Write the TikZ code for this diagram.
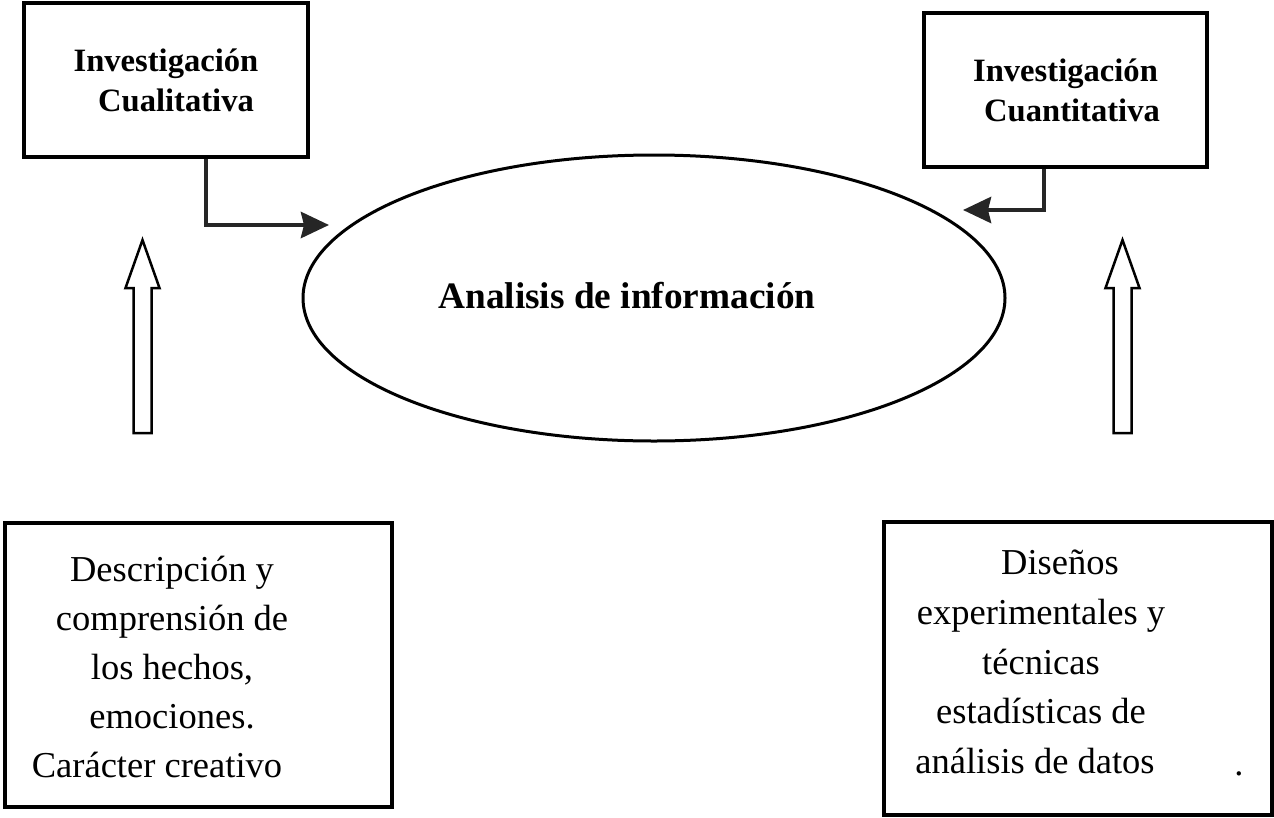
\documentclass[tikz,border=0pt]{standalone}
\usepackage{fontspec}
\setmainfont{Liberation Serif}
\usetikzlibrary{arrows.meta,shapes.geometric}
\tikzset{
  box/.style={draw=black,line width=3.2pt,fill=none,inner sep=0pt,align=center},
  headtext/.style={font=\fontsize{32.6}{40}\selectfont\bfseries,align=center},
  bodytext/.style={font=\fontsize{36.5}{49}\selectfont,align=center,inner sep=0pt},
  oval/.style={draw=black,ellipse,line width=3pt,inner sep=0pt},
  ovaltext/.style={font=\fontsize{37.3}{45}\selectfont\bfseries,inner sep=0pt},
  conn/.style={draw=black!85,line width=4.5pt,-{Stealth[length=28pt,width=26pt,inset=3pt]}},
  hollow/.style={draw=black,line width=2.5pt,fill=white,line join=miter},
  uparrow/.pic={\draw[hollow] (-9,0) -- (-9,-145) -- (-17,-145) -- (0,-193) -- (17,-145) -- (9,-145) -- (9,0) -- cycle;}
}
\begin{document}
\begin{tikzpicture}[x=1pt,y=-1pt]
\useasboundingbox (0,0) rectangle (1274,817);
% top boxes
\node[box,headtext,minimum width=284,minimum height=154] (q1) at (166,80)
  {Investigación\\\hspace*{20pt}Cualitativa};
\node[box,headtext,minimum width=283,minimum height=154] (q2) at (1065.5,90)
  {Investigación\\\hspace*{13pt}Cuantitativa};
% ellipse
\node[oval,minimum width=702,minimum height=286] (an) at (654,298) {};
\node[ovaltext] (ant) at (627,296) {Analisis de información};
% connectors
\coordinate (k1) at (206,225);
\coordinate (t1) at (329,225);
\coordinate (k2) at (1044,210);
\coordinate (t2) at (963,210);
\draw[conn] (q1.south -| k1) -- (k1) -- (t1);
\draw[conn] (q2.south -| k2) -- (k2) -- (t2);
% hollow arrows
\pic (ua1) at (142.5,433) {uparrow};
\pic (ua2) at (1122.5,433) {uparrow};
% bottom boxes
\node[box,minimum width=387,minimum height=284] (b1) at (198.5,665) {};
\node[bodytext] (b1t) at (172,667)
  {Descripción y\\comprensión de\hspace*{16pt}\\los hechos,\\emociones.\\Carácter creativo\hspace*{30pt}};
\node[box,minimum width=388,minimum height=293] (b2) at (1078,668.5) {};
\node[bodytext,font=\fontsize{36.5}{49.7}\selectfont] (b2t) at (1041,662)
  {\hspace*{38pt}Diseños\\experimentales y\\técnicas\\estadísticas de\\análisis de datos\hspace*{12pt}};
\node[bodytext,anchor=base] (dot) at (1239,775) {.};
\end{tikzpicture}
\end{document}
